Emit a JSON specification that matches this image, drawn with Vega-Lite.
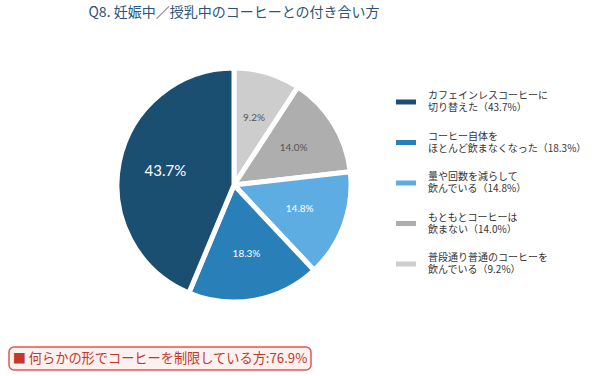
{
  "$schema": "https://vega.github.io/schema/vega-lite/v6.json",
  "padding": {"left": 8, "top": 6, "right": 0, "bottom": 0},
  "background": "white",
  "config": {"font": "Noto Sans CJK JP", "view": {"stroke": null}, "concat": {"spacing": 5}},
  "data": {"values": [
    {"cat": "普段通り普通のコーヒーを|飲んでいる（9.2%）", "v": 9.2, "o": 1},
    {"cat": "もともとコーヒーは|飲まない（14.0%）", "v": 14.0, "o": 2},
    {"cat": "量や回数を減らして|飲んでいる（14.8%）", "v": 14.8, "o": 3},
    {"cat": "コーヒー自体を|ほとんど飲まなくなった（18.3%）", "v": 18.3, "o": 4},
    {"cat": "カフェインレスコーヒーに|切り替えた（43.7%）", "v": 43.7, "o": 5}
  ]},
  "vconcat": [
    {
      "width": 450,
      "height": 312,
      "title": {"text": "Q8. 妊娠中／授乳中のコーヒーとの付き合い方", "fontSize": 14, "fontWeight": "normal", "color": "#2c5478", "anchor": "middle", "offset": 9},
      "transform": [{"calculate": "format(datum.v, '.1f') + '%'", "as": "lab"}],
      "layer": [
        {
          "mark": {"type": "arc", "outerRadius": 117, "stroke": "white", "strokeWidth": 5},
          "encoding": {
            "theta": {"field": "v", "type": "quantitative", "stack": true},
            "order": {"field": "o", "type": "quantitative"},
            "color": {
              "field": "cat", "type": "nominal",
              "scale": {
                "domain": ["カフェインレスコーヒーに|切り替えた（43.7%）", "コーヒー自体を|ほとんど飲まなくなった（18.3%）", "量や回数を減らして|飲んでいる（14.8%）", "もともとコーヒーは|飲まない（14.0%）", "普段通り普通のコーヒーを|飲んでいる（9.2%）"],
                "range": ["#1b4f72", "#2980b9", "#5dade2", "#aeaeae", "#cdcdcd"]
              },
              "legend": {
                "title": null,
                "orient": "none",
                "legendX": 387,
                "legendY": 63,
                "padding": 0,
                "symbolType": "M-1,-0.25H1V0.25H-1Z",
                "symbolSize": 400,
                "symbolStrokeWidth": 0,
                "labelExpr": "split(datum.label, '|')",
                "labelFontSize": 10,
                "labelLineHeight": 13,
                "labelBaseline": "line-bottom",
                "labelColor": "#333333",
                "labelOffset": 12,
                "labelLimit": 300,
                "rowPadding": 18.5
              }
            }
          }
        },
        {
          "mark": {"type": "text", "radius": 70, "font": "Lato"},
          "encoding": {
            "theta": {"field": "v", "type": "quantitative", "stack": true},
            "order": {"field": "o", "type": "quantitative"},
            "text": {"field": "lab", "type": "nominal"},
            "color": {"condition": {"test": "datum.v < 14.5", "value": "#555555"}, "value": "white"},
            "size": {"condition": {"test": "datum.v > 40", "value": 15}, "value": 10}
          }
        }
      ]
    },
    {
      "width": 302,
      "height": 23,
      "view": {"stroke": "#e0584f", "strokeWidth": 1.5, "cornerRadius": 5, "fill": "#fdf1f0"},
      "data": {"values": [{"t": "■ 何らかの形でコーヒーを制限している方:76.9%"}]},
      "mark": {"type": "text", "fontSize": 13.2, "color": "#c0392b"},
      "encoding": {"text": {"field": "t", "type": "nominal"}}
    }
  ]
}
